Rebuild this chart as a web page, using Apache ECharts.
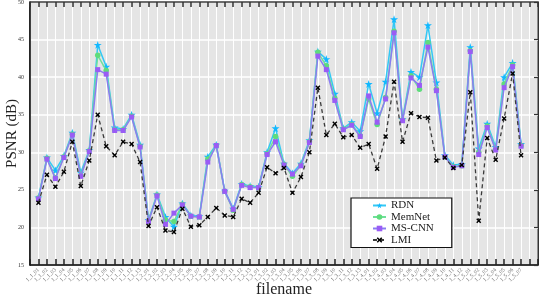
<!DOCTYPE html>
<html><head><meta charset="utf-8">
<script src="https://cdn.jsdelivr.net/npm/echarts@6/dist/echarts.min.js"></script>
<style>html,body{margin:0;padding:0;background:#fff}#c{width:540px;height:301px}</style>
</head><body><div id="c"></div>
<script>
const categories = ['1_1_01','1_1_02','1_1_03','1_1_04','1_1_05','1_1_06','1_1_07','1_1_08','1_1_09','1_1_10','1_1_11','1_1_12','1_1_13',
'1_2_01','1_2_02','1_2_03','1_2_04','1_2_05','1_2_06','1_2_07','1_2_08','1_2_09','1_2_10','1_2_11','1_2_12','1_2_13',
'1_3_01','1_3_02','1_3_03','1_3_04','1_3_05','1_3_06','1_3_07','1_3_08','1_3_09','1_3_10','1_3_11','1_3_12','1_3_13',
'1_4_01','1_4_02','1_4_03','1_4_04','1_4_05','1_4_06','1_4_07','1_4_08','1_4_09','1_4_10','1_4_11','1_4_12',
'1_5_01','1_5_02','1_5_03','1_5_04','1_5_05','1_5_06','1_5_07'];
const rdn = [24.0,29.3,27.6,29.5,32.6,27.3,30.3,44.3,41.4,33.3,33.1,35.0,31.0,
21.0,24.4,21.4,20.1,23.2,21.6,21.5,29.4,31.0,24.9,22.5,25.8,25.5,
25.4,30.0,33.2,28.5,27.2,28.5,31.6,43.4,42.4,37.8,33.2,34.0,32.8,
39.1,35.2,39.4,47.7,34.4,40.7,40.0,46.9,39.3,29.6,28.3,28.4,
44.0,30.5,33.8,30.7,40.0,41.9,31.1];
const memnet = [23.9,29.2,26.6,29.4,32.4,26.9,30.2,42.9,40.9,33.0,33.0,34.8,30.8,
20.9,24.3,21.0,20.8,23.1,21.5,21.4,29.1,30.9,24.8,22.3,25.7,25.4,
25.3,29.8,32.1,28.4,26.8,28.3,31.4,43.3,41.5,37.2,33.1,33.7,32.2,
37.1,33.7,37.3,46.1,34.3,40.2,38.4,44.6,38.4,29.4,28.1,28.2,
43.5,30.0,33.5,30.4,39.1,41.6,30.9];
const mscnn = [23.8,29.1,26.5,29.3,32.3,26.8,30.1,41.0,40.4,32.9,32.9,34.7,30.7,
20.8,24.2,20.4,21.9,23.0,21.5,21.4,28.7,30.9,24.8,22.4,25.6,25.3,
25.3,29.7,31.4,28.3,27.1,28.2,31.3,42.8,41.0,36.9,33.0,33.6,32.1,
37.5,34.0,37.1,45.9,34.2,39.9,38.9,44.0,38.2,29.4,28.0,28.2,
43.4,29.7,33.3,30.3,38.6,41.4,30.8];
const lmi = [23.3,27.0,25.4,27.4,31.4,25.5,28.9,35.0,30.8,29.6,31.4,31.1,28.7,
20.2,22.7,19.6,19.4,22.5,20.1,20.3,21.4,22.6,21.6,21.4,23.8,23.3,
24.6,28.0,27.2,27.9,24.6,26.7,30.0,38.6,32.3,33.8,32.0,32.3,30.6,
31.1,27.8,32.1,39.4,31.4,35.2,34.7,34.6,28.9,29.3,27.9,28.3,
38.0,20.9,31.9,29.0,34.5,40.5,29.6];
const yTicks = [15,20,25,30,35,40,45,50];

const serif = "'Liberation Serif','DejaVu Serif',serif";
const STAR = 'path://M50,0 L61,35 L98,35 L68,57 L79,91 L50,70 L21,91 L32,57 L2,35 L39,35 Z';
const CROSS = 'path://M2,0 L5,3 L8,0 L10,2 L7,5 L10,8 L8,10 L5,7 L2,10 L0,8 L3,5 L0,2 Z';
const pts = arr => arr.map((v,i)=>[i,v]);

const chart = echarts.init(document.getElementById('c'), null, {renderer:'canvas'});
chart.setOption({
  animation:false,
  textStyle:{fontFamily:serif},
  grid:{left:30,right:2,top:2,bottom:36,show:true,backgroundColor:'#e5e5e5',borderColor:'#333',borderWidth:1,
        containLabel:false,outerBoundsMode:'none'},
  xAxis:[{
    type:'value',min:-1,max:59,interval:1,
    axisLine:{show:true,onZero:false,lineStyle:{color:'#000',width:1.5}},
    axisTick:{show:true,inside:true,length:6,lineStyle:{color:'#222',width:1.5}},
    splitLine:{show:true,lineStyle:{color:'#fff',width:1}},
    axisLabel:{formatter:v=>categories[v]||'',rotate:45,fontSize:5.5,color:'#666',margin:4,fontFamily:serif},
    name:'filename',nameLocation:'middle',nameGap:17,nameMoveOverlap:false,
    nameTextStyle:{fontSize:16,color:'#222',fontFamily:serif,verticalAlign:'top'}
  },{
    type:'value',position:'top',min:-1,max:59,interval:1,
    axisLine:{show:true,onZero:false,lineStyle:{color:'#444',width:1.5}},
    axisTick:{show:true,inside:true,length:5,lineStyle:{color:'#333',width:1.5}},
    splitLine:{show:false},axisLabel:{show:false}
  }],
  yAxis:[{
    type:'value',min:15,max:50,interval:5,
    axisLine:{show:true,onZero:false,lineStyle:{color:'#000',width:1.5}},
    axisTick:{show:false},
    splitLine:{show:true,lineStyle:{color:'#fff',width:1.5}},
    axisLabel:{fontSize:6,color:'#333',margin:6,fontFamily:serif,formatter:v=>yTicks.includes(v)?String(v):''},
    name:'PSNR (dB)',nameLocation:'middle',nameGap:18,nameMoveOverlap:false,
    nameTextStyle:{fontSize:15,color:'#222',fontFamily:serif,verticalAlign:'middle'}
  },{
    type:'value',position:'right',min:15,max:50,interval:5,
    axisLine:{show:true,onZero:false,lineStyle:{color:'#333',width:1}},
    axisTick:{show:true,inside:true,length:4,lineStyle:{color:'#333',width:1.2}},
    splitLine:{show:false},axisLabel:{show:false}
  }],
  legend:{
    left:351,top:198,orient:'vertical',backgroundColor:'#fff',borderColor:'#111',borderWidth:1.2,
    padding:[2,18,2,21],itemWidth:13,itemHeight:7,itemGap:0.5,
    textStyle:{fontSize:11,lineHeight:11,color:'#222',fontFamily:serif},
    data:['RDN','MemNet','MS-CNN','LMI']
  },
  series:[
    {name:'RDN',type:'line',data:pts(rdn),symbol:STAR,symbolSize:8,z:2,
     lineStyle:{color:'#33c8f5',width:1.5},itemStyle:{color:'#12b8ff'}},
    {name:'MemNet',type:'line',data:pts(memnet),symbol:'circle',symbolSize:5.5,z:3,
     lineStyle:{color:'#6fe09a',width:1.5},itemStyle:{color:'#5fdc7c'}},
    {name:'MS-CNN',type:'line',data:pts(mscnn),symbol:'rect',symbolSize:5,z:4,
     lineStyle:{color:'#8a7cf2',width:1.5},itemStyle:{color:'#9a5cf5'}},
    {name:'LMI',type:'line',data:pts(lmi),symbol:CROSS,symbolSize:5,z:5,
     lineStyle:{color:'#3a3a3a',width:1.3,type:[4,3]},itemStyle:{color:'#000'}}
  ]
});
</script></body></html>
